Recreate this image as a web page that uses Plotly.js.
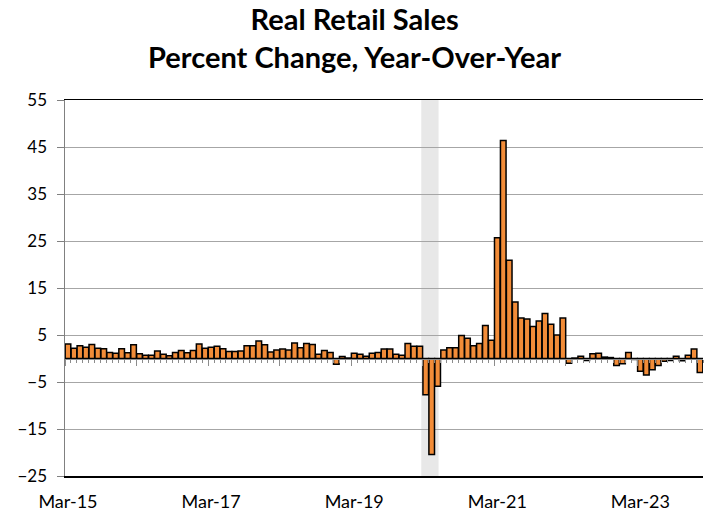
<!DOCTYPE html>
<html>
<head>
<meta charset="utf-8">
<script src="https://cdn.plot.ly/plotly-3.0.1.min.js"></script>
<style>html,body{margin:0;padding:0;background:#fff;}#chart{width:705px;height:516px;}</style>
</head>
<body>
<div id="chart"></div>
<script>
// Monthly real retail sales, % change year-over-year, Mar-2015 .. Jan-2024
const startYear = 2015, startMonth = 2; // March (0-based)
const yoyValues = [
  3.1, 2.2, 2.7, 2.4, 3.0, 2.2, 2.1, 1.3, 1.1, 2.1,
  1.2, 2.9, 1.0, 0.7, 0.7, 1.6, 0.9, 0.6, 1.3, 1.7,
  1.2, 1.7, 3.1, 2.2, 2.4, 2.6, 2.1, 1.5, 1.5, 1.6,
  2.7, 2.7, 3.7, 2.9, 1.4, 1.8, 2.0, 1.8, 3.3, 2.3,
  3.2, 3.0, 0.9, 1.7, 1.3, -1.2, 0.4, 0.1, 1.1, 0.9,
  0.5, 1.1, 1.3, 2.0, 2.0, 0.9, 0.7, 3.2, 2.6, 2.6,
  -7.7, -20.4, -5.9, 1.8, 2.3, 2.3, 4.9, 4.3, 2.7, 3.2,
  7.0, 3.9, 25.7, 46.4, 20.9, 12.0, 8.6, 8.4, 6.8, 8.0,
  9.6, 7.3, 5.0, 8.6, -1.0, 0.1, 0.5, -0.4, 1.0, 1.1,
  0.3, 0.2, -1.5, -1.1, 1.3, -0.2, -2.7, -3.5, -2.4, -1.5,
  -0.6, -0.4, 0.5, -0.5, 0.7, 2.0, -3.0
];
const monNames = ['Jan','Feb','Mar','Apr','May','Jun','Jul','Aug','Sep','Oct','Nov','Dec'];
const monthLabels = yoyValues.map((v, i) => {
  const m = (startMonth + i) % 12;
  const y = startYear + Math.floor((startMonth + i) / 12);
  return monNames[m] + '-' + String(y).slice(2);
});
const monthIndex = yoyValues.map((v, i) => i);
const tickLabels = ['Mar-15', 'Mar-17', 'Mar-19', 'Mar-21', 'Mar-23'];
const tickPositions = tickLabels.map(l => monthLabels.indexOf(l));
const yTicks = [-25, -15, -5, 5, 15, 25, 35, 45, 55];
const recessionStart = 'Feb-20', recessionEnd = 'Apr-20';

const FONT = 'Lato, "Open Sans", sans-serif';
const n = yoyValues.length;
const xr = [-0.5, n - 0.5];

const trace = {
  type: 'bar',
  x: monthIndex,
  y: yoyValues,
  text: monthLabels,
  textposition: 'none',
  hovertemplate: '%{text}: %{y:.1f}%<extra></extra>',
  marker: { color: '#F28C38', line: { color: '#000000', width: 1.5 } },
  xaxis: 'x', yaxis: 'y'
};

const rs = monthLabels.indexOf(recessionStart), re = monthLabels.indexOf(recessionEnd);

const layout = {
  width: 705, height: 516,
  margin: { l: 65, r: 2, t: 100, b: 40 },
  paper_bgcolor: '#ffffff', plot_bgcolor: '#ffffff',
  showlegend: false,
  bargap: 0.06,
  title: {
    text: '<b>Real Retail Sales</b><br><b>Percent Change, Year-Over-Year</b>',
    font: { family: FONT, size: 29, color: '#000000' },
    x: 0.503, xanchor: 'center', xref: 'container',
    yref: 'container', y: 1 - 30 / 516, yanchor: 'middle'
  },
  xaxis: {
    range: xr, showgrid: false, zeroline: false,
    tickmode: 'array', tickvals: tickPositions, ticktext: tickLabels,
    ticks: '', ticklabelstandoff: 9,
    showline: true, mirror: true, linecolor: '#000000', linewidth: 1.5,
    tickfont: { family: FONT, size: 18, color: '#000000' }
  },
  xaxis2: {
    overlaying: 'x', matches: 'x', anchor: 'free', position: 25 / 80,
    range: xr, showgrid: false, zeroline: false, showticklabels: false,
    showline: true, linecolor: '#8c8c8c', linewidth: 1.2,
    tickmode: 'linear', tick0: 11.5, dtick: 12,
    ticks: 'outside', ticklen: 6, tickcolor: '#8c8c8c', tickwidth: 1,
    minor: { tickmode: 'linear', tick0: 0.5, dtick: 1, ticks: 'outside', ticklen: 3, tickcolor: '#8c8c8c', tickwidth: 1 }
  },
  yaxis: {
    range: [-25, 55], tickmode: 'array', tickvals: yTicks,
    showgrid: true, gridcolor: '#a6a6a6', gridwidth: 1, zeroline: false,
    showline: true, linecolor: '#808080', linewidth: 1.5,
    ticks: 'outside', ticklen: 7, tickcolor: '#808080',
    ticklabelstandoff: 6,
    tickfont: { family: FONT, size: 17, color: '#000000' }
  },
  shapes: [{
    type: 'rect', layer: 'between', xref: 'x', yref: 'paper',
    x0: rs + 0.25, x1: re + 1.15, y0: 0, y1: 1,
    fillcolor: '#e8e8e8', line: { width: 0 }
  }]
};

const zeroTrace = { type: 'scatter', x: [], y: [], xaxis: 'x2', yaxis: 'y', hoverinfo: 'skip' };

Plotly.newPlot('chart', [trace, zeroTrace], layout, { displayModeBar: false, staticPlot: true });
</script>
</body>
</html>
